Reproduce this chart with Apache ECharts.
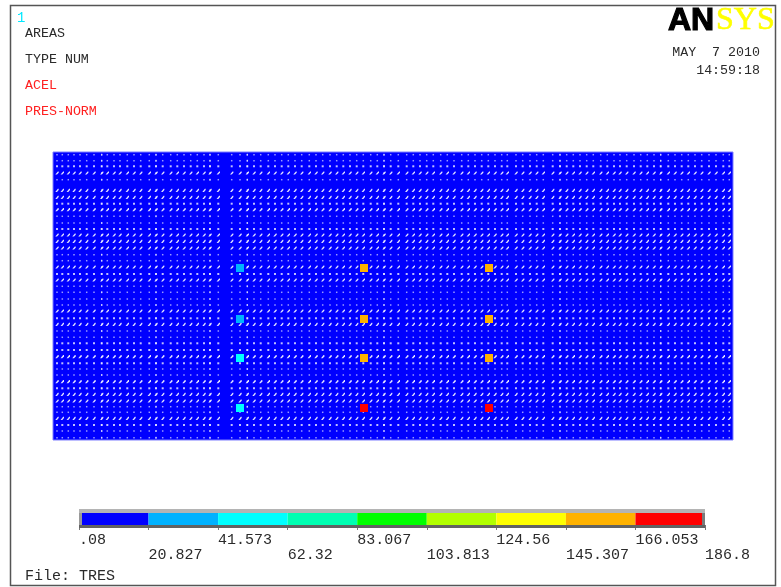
<!DOCTYPE html>
<html>
<head>
<meta charset="utf-8">
<style>html,body{margin:0;padding:0;background:#fff}#c{width:781px;height:587px}</style>
<script src="https://cdn.jsdelivr.net/npm/echarts@6/dist/echarts.min.js"></script>
</head>
<body>
<div id="c"></div>
<script>
// Contour levels and their colours
const levels = [0.08, 20.827, 41.573, 62.32, 83.067, 103.813, 124.56, 145.307, 166.053, 186.8];
const tickLabels = ['.08', '20.827', '41.573', '62.32', '83.067', '103.813', '124.56', '145.307', '166.053', '186.8'];
const bandColors = ['#0000ff', '#00b2ff', '#00ffff', '#00ffb2', '#00ff00', '#b2ff00', '#ffff00', '#ffb200', '#ff0000'];

// Highlighted nodes on the plate: x, y, value
const hotNodes = [
  [187, 116, 35], [187, 167, 38], [187, 206, 45], [187, 256, 48],
  [311, 116, 152], [311, 167, 152], [311, 206, 152], [311, 256, 176],
  [436, 116, 150], [436, 167, 150], [436, 206, 152], [436, 256, 176]
];

// Mesh lines (model position along the plate)
const meshCols = [4, 9.3, 15.3, 21, 27, 33.7, 41, 48.7, 54.3, 61, 67, 74.3, 81, 87.7, 96.3, 103, 109.7, 117.7, 124.3, 131,
  137.7, 144.3, 151, 157, 165.3, 178.7, 187, 194.3, 201, 207.7, 215.3, 222, 228.7, 235.3, 242, 248.7, 256.3, 263,
  269.7, 277, 283.7, 290.3, 297, 303.7, 310.3, 317.7, 324.3, 331, 337.7, 345.3, 353.7, 360.3, 367, 373.7, 380.3,
  387.7, 394.3, 401, 408.7, 415.3, 422, 428.7, 435.3, 442, 448.7, 454.3, 463, 469.7, 477, 483.7, 490.3, 499.7, 507,
  513.7, 520.3, 527, 533.7, 540.3, 547.7, 554.3, 561, 567, 573.7, 581, 587.7, 594.3, 601, 607.7, 615.3, 622, 628.7,
  635.3, 642, 648.7, 656, 663, 670.3, 676.3];
const heavyCols = [48.7, 103, 157, 194.3, 331, 507, 607.7];
const strongRows = [21, 38.3, 45.3, 57.7, 83, 89.3, 96, 115, 128, 159, 172.3, 204.7, 229.7, 242.3, 249, 266.3];
const mediumRows = [14.3, 51.7, 77, 122, 166.3, 191.3, 198, 236.3, 211.3, 273];
const faintRows = [2.7, 8.7, 27.7, 64.3, 71, 102.7, 108.7, 134.3, 140.3, 147, 153, 179, 185.3, 217, 223, 254.7, 260.3, 279, 285.7];

function cross(cols, rows) {
  const out = [];
  rows.forEach(r => cols.forEach(c => out.push([c, r])));
  return out;
}
const allRows = strongRows.concat(mediumRows, faintRows);
const bands = bandColors.map((c, i) => [levels[i], levels[i + 1], i]);

const mono = '"Liberation Mono", "DejaVu Sans Mono", monospace';
const dark = '#2a2a2a';
function txt(text, x, y, fill, size, align) {
  return { type: 'text', z: 100, silent: true,
    style: { text, x, y, fill, font: size + 'px ' + mono, align: align || 'left', verticalAlign: 'middle' } };
}
function box(x, y, width, height, fill) {
  return { type: 'rect', z: 100, silent: true, shape: { x, y, width, height }, style: { fill } };
}

const chart = echarts.init(document.getElementById('c'), null, { renderer: 'canvas' });
chart.setOption({
  animation: false,
  backgroundColor: '#ffffff',
  grid: [
    { left: 53, top: 152, width: 680, height: 288, show: true, backgroundColor: '#0000ff', borderColor: '#7f7fff', borderWidth: 1 },
    { left: 79, top: 513, width: 626, height: 12, show: false }
  ],
  xAxis: [
    { gridIndex: 0, type: 'value', min: 0, max: 680, show: false },
    { gridIndex: 1, type: 'value', min: levels[0], max: levels[levels.length - 1],
      splitLine: { show: false }, axisLine: { show: false },
      axisTick: { show: true, length: 5, lineStyle: { color: '#777' }, customValues: levels },
      axisLabel: {
        show: true, margin: 8, align: 'left', verticalAlign: 'top', hideOverlap: false, lineHeight: 15,
        customValues: levels, color: dark, fontFamily: mono, fontSize: 15,
        showMinLabel: true, showMaxLabel: true,
        formatter: function (v) {
          const i = levels.indexOf(v);
          return (i % 2 ? '\n' : '') + tickLabels[i];
        }
      } }
  ],
  yAxis: [
    { gridIndex: 0, type: 'value', min: 0, max: 288, inverse: true, show: false },
    { gridIndex: 1, type: 'value', min: 0, max: 1, show: false }
  ],
  visualMap: {
    show: false, type: 'piecewise', seriesIndex: 4, dimension: 2,
    pieces: bandColors.map((c, i) => ({ gte: levels[i], lt: levels[i + 1], color: c }))
  },
  series: [
    { type: 'scatter', name: 'mesh faint', silent: true, symbol: 'rect', symbolSize: 1.5,
      itemStyle: { color: '#ffffff', opacity: 0.6 }, data: cross(meshCols, faintRows) },
    { type: 'scatter', name: 'mesh medium', silent: true, symbol: 'rect', symbolSize: [2, 2],
      itemStyle: { color: '#ffffff', opacity: 0.75 }, data: cross(meshCols, mediumRows) },
    { type: 'scatter', name: 'mesh strong', silent: true, symbol: 'path://M0 4 L3 0 L4 0 L4 1.6 L2 4 Z', symbolSize: [3.4, 3.2],
      itemStyle: { color: '#ffffff', opacity: 0.88 }, data: cross(meshCols, strongRows) },
    { type: 'scatter', name: 'mesh heavy', silent: true, symbol: 'rect', symbolSize: [1.2, 2],
      itemStyle: { color: '#ffffff', opacity: 0.6 }, data: cross(heavyCols, allRows) },
    { type: 'scatter', name: 'nodes', silent: true, symbol: 'rect', symbolSize: [8, 8], z: 5,
      itemStyle: { opacity: 1 }, data: hotNodes },
    { type: 'custom', name: 'legend', xAxisIndex: 1, yAxisIndex: 1, silent: true, clip: true, data: bands,
      encode: { x: [0, 1] },
      renderItem: function (params, api) {
        const a = api.coord([api.value(0), 1]);
        const b = api.coord([api.value(1), 0]);
        return { type: 'rect', shape: { x: a[0], y: a[1], width: b[0] - a[0], height: b[1] - a[1] },
          style: { fill: bandColors[api.value(2)] } };
      } }
  ],
  graphic: [
    { type: 'rect', z: 90, silent: true, shape: { x: 10.5, y: 5.5, width: 765, height: 580 },
      style: { fill: 'none', stroke: '#555555', lineWidth: 1.5 } },
    box(79, 509, 626, 4, '#b4b4b4'),
    box(79, 525, 626, 3, '#626262'),
    box(79, 513, 3, 12, '#999999'),
    box(702, 513, 3, 12, '#7a7a7a'),
    txt('1', 17, 18, '#00e8ff', 14),
    txt('AREAS', 25, 33, dark, 13.3),
    txt('TYPE NUM', 25, 59, dark, 13.3),
    txt('ACEL', 25, 85, '#ff2020', 13.3),
    txt('PRES-NORM', 25, 111, '#ff2020', 13.3),
    txt('MAY  7 2010', 760, 52, dark, 13.3, 'right'),
    txt('14:59:18', 760, 70, dark, 13.3, 'right'),
    txt('File: TRES', 25, 576, dark, 15),
    { type: 'text', z: 100, silent: true, style: { text: 'AN', x: 668, y: 21, fill: '#000000', stroke: '#000000', lineWidth: 1.2,
      font: 'bold 32px "Liberation Sans", sans-serif', verticalAlign: 'middle' } },
    { type: 'text', z: 100, silent: true, style: { text: 'SYS', x: 716, y: 21, fill: '#ffff00', stroke: '#ffff00', lineWidth: 0.6,
      font: '32px "Liberation Serif", serif', verticalAlign: 'middle' } }
  ]
});
</script>
</body>
</html>
